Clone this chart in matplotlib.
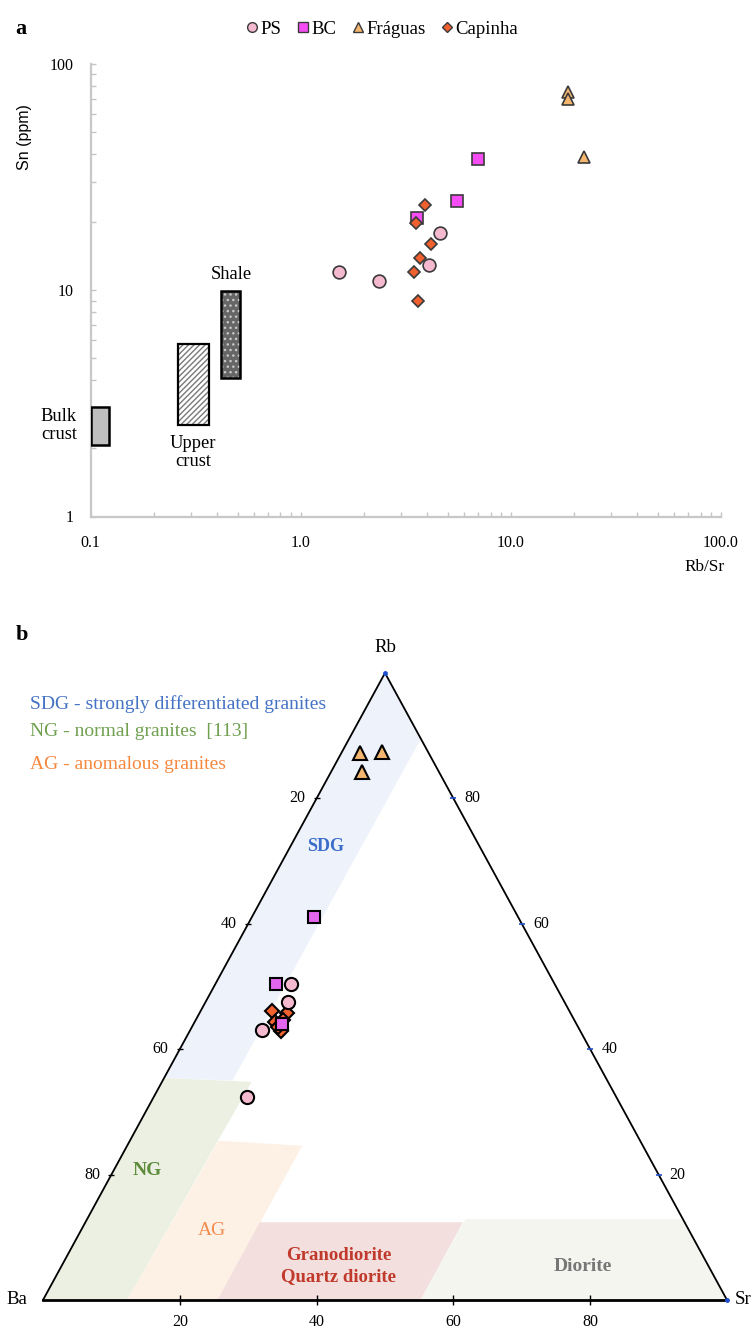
import matplotlib
matplotlib.use('Agg')
import matplotlib.pyplot as plt
from matplotlib.patches import Rectangle, Polygon
from matplotlib.lines import Line2D
from matplotlib.ticker import NullFormatter, LogLocator

SERIF = ['Liberation Serif', 'DejaVu Serif']
plt.rcParams['font.family'] = SERIF

# ---------------- data: panel a (Rb/Sr vs Sn) ----------------
ps_rbsr = [1.52, 2.35, 4.59, 4.07]
ps_sn = [12.0, 11.0, 17.9, 12.9]
bc_rbsr = [6.96, 5.53, 3.57]
bc_sn = [38.0, 24.8, 20.8]
fr_rbsr = [18.7, 18.7, 22.3]
fr_sn = [75.2, 70.0, 38.7]
cp_rbsr = [3.89, 3.53, 4.16, 3.69, 3.45, 3.61]
cp_sn = [23.8, 19.8, 16.0, 13.9, 12.0, 9.0]

ref_names = ['Bulk\ncrust', 'Upper\ncrust', 'Shale']
ref_rbsr_lo = [0.100, 0.259, 0.416]
ref_rbsr_hi = [0.122, 0.365, 0.512]
ref_sn_lo = [2.08, 2.54, 4.1]
ref_sn_hi = [3.05, 5.77, 9.9]

x_ticks = [0.1, 1, 10, 100]
x_ticklabels = ['0.1', '1.0', '10.0', '100.0']
y_ticks = [1, 10, 100]
y_ticklabels = ['1', '10', '100']

# ---------------- data: panel b (Ba-Rb-Sr ternary, %) ----------------
ps_ba = [38.5, 40.4, 46.5, 54.0]
ps_rb = [50.4, 47.6, 43.0, 32.3]
ps_sr = [11.1, 12.0, 10.5, 13.7]
bc_ba = [29.8, 40.7, 43.0]
bc_rb = [61.1, 50.4, 44.0]
bc_sr = [9.1, 8.9, 13.0]
fr_ba = [10.0, 6.8, 11.2]
fr_rb = [87.2, 87.4, 84.2]
fr_sr = [2.8, 5.8, 4.6]
cp_ba = [43.5, 41.4, 43.9, 43.8, 42.5, 43.8]
cp_rb = [46.1, 45.8, 44.3, 42.9, 44.7, 43.6]
cp_sr = [10.4, 12.8, 11.8, 13.3, 12.8, 12.6]

# field outlines as (Rb %, Sr %); Ba = 100 - Rb - Sr
sdg_rb = [100, 89.5, 35.0, 35.4]
sdg_sr = [0, 10.5, 10.2, 0]
ng_rb = [35.4, 34.8, 0, 0]
ng_sr = [0, 13.1, 12.3, 0]
ag_rb = [25.4, 24.6, 0, 0]
ag_sr = [13.0, 25.6, 25.5, 12.3]
gd_rb = [12.4, 12.4, 0, 0]
gd_sr = [25.5, 55.2, 55.2, 25.5]
di_rb = [12.9, 12.9, 0, 0]
di_sr = [55.3, 87.1, 100, 55.2]

tern_ticks = [20, 40, 60, 80]

# ---------------- styles ----------------
C_PS = '#F5B9CF'
C_BC = '#F54CF5'
C_BC2 = '#E466EE'
C_FR = '#F4B66E'
C_CP = '#F0612F'
EDGE = '#3a3a3a'

W, H = 754, 1327
fig = plt.figure(figsize=(W / 100, H / 100), dpi=100)


def fx(px):
    return px / W


def fy(py):
    return 1 - py / H


# ================= Panel a =================
x0, x1, y0, y1 = 90.7, 721, 64, 516.5
axa = fig.add_axes([fx(x0), fy(y1), (x1 - x0) / W, (y1 - y0) / H])
axa.set_xscale('log')
axa.set_yscale('log')
axa.set_xlim(0.1, 100)
axa.set_ylim(1, 100)
for s in ['top', 'right']:
    axa.spines[s].set_visible(False)
for s in ['left', 'bottom']:
    axa.spines[s].set_color('#c8c8c8')
    axa.spines[s].set_linewidth(1.6)
axa.set_xticks(x_ticks, labels=x_ticklabels)
axa.set_yticks(y_ticks, labels=y_ticklabels)
axa.xaxis.set_minor_locator(LogLocator(base=10, subs=range(2, 10)))
axa.yaxis.set_minor_locator(LogLocator(base=10, subs=range(2, 10)))
axa.xaxis.set_minor_formatter(NullFormatter())
axa.yaxis.set_minor_formatter(NullFormatter())
axa.tick_params(which='both', direction='in', color='#c4c4c4', width=1.0,
                length=3.8, labelsize=11.5)
axa.tick_params(axis='x', which='both', pad=13)
axa.tick_params(axis='y', which='both', pad=12.5)

# reference boxes
# bulk crust
axa.add_patch(Rectangle((ref_rbsr_lo[0], ref_sn_lo[0]), ref_rbsr_hi[0] - ref_rbsr_lo[0],
                        ref_sn_hi[0] - ref_sn_lo[0], facecolor='#bfbfbf',
                        edgecolor='black', lw=1.8, zorder=3))
# upper crust (hatched)
axa.add_patch(Rectangle((ref_rbsr_lo[1], ref_sn_lo[1]), ref_rbsr_hi[1] - ref_rbsr_lo[1],
                        ref_sn_hi[1] - ref_sn_lo[1], facecolor='white',
                        edgecolor='#7a7a7a', hatch='//////', lw=0, zorder=3))
axa.add_patch(Rectangle((ref_rbsr_lo[1], ref_sn_lo[1]), ref_rbsr_hi[1] - ref_rbsr_lo[1],
                        ref_sn_hi[1] - ref_sn_lo[1], facecolor='none',
                        edgecolor='black', lw=1.6, zorder=4))
# shale (dotted dark)
axa.add_patch(Rectangle((ref_rbsr_lo[2], ref_sn_lo[2]), ref_rbsr_hi[2] - ref_rbsr_lo[2],
                        ref_sn_hi[2] - ref_sn_lo[2], facecolor='#666666',
                        edgecolor='none', lw=0, zorder=3))
axa.add_patch(Rectangle((ref_rbsr_lo[2], ref_sn_lo[2]), ref_rbsr_hi[2] - ref_rbsr_lo[2],
                        ref_sn_hi[2] - ref_sn_lo[2], facecolor='none',
                        edgecolor='#c8c8c8', hatch='...', lw=0, zorder=3))
axa.add_patch(Rectangle((ref_rbsr_lo[2], ref_sn_lo[2]), ref_rbsr_hi[2] - ref_rbsr_lo[2],
                        ref_sn_hi[2] - ref_sn_lo[2], facecolor='none',
                        edgecolor='black', lw=1.8, zorder=4))

axa.text(0.0706, 2.52, ref_names[0], ha='center', va='center', fontsize=13.3,
         linespacing=1.1)
axa.text(0.307, 1.92, ref_names[1], ha='center', va='center', fontsize=13.3,
         linespacing=1.1)
axa.text(0.466, 11.7, ref_names[2], ha='center', va='center', fontsize=13.3)

mk = dict(markeredgecolor=EDGE, markeredgewidth=1.2, linestyle='none', zorder=5)
axa.plot(ps_rbsr, ps_sn, marker='o', ms=9.2, markerfacecolor=C_PS, **mk)
axa.plot(bc_rbsr, bc_sn, marker='s', ms=8.2, markerfacecolor=C_BC, **mk)
axa.plot(fr_rbsr, fr_sn, marker='^', ms=8.6, markerfacecolor=C_FR, **mk)
axa.plot(cp_rbsr, cp_sn, marker='D', ms=5.8, markerfacecolor=C_CP, **mk)

fig.text(fx(25), fy(137), 'Sn (ppm)', rotation=90, ha='center', va='center',
         fontsize=11.5, family=['Liberation Sans', 'DejaVu Sans'])
fig.text(fx(705), fy(567), 'Rb/Sr', ha='center', va='center', fontsize=12.4)
fig.text(fx(21), fy(29), 'a', ha='center', va='center', fontsize=16,
         fontweight='bold')

lmk = dict(markeredgecolor=EDGE, markeredgewidth=1.0, linestyle='none')
handles = [Line2D([], [], marker='o', ms=7, markerfacecolor=C_PS, **lmk),
           Line2D([], [], marker='s', ms=7, markerfacecolor=C_BC, **lmk),
           Line2D([], [], marker='^', ms=7, markerfacecolor=C_FR, **lmk),
           Line2D([], [], marker='D', ms=5, markerfacecolor=C_CP, **lmk)]
fig.legend(handles, ['PS', 'BC', 'Fráguas', 'Capinha'], loc='center',
           bbox_to_anchor=(fx(382), fy(29)), ncol=4, frameon=False,
           handlelength=0.6, handletextpad=0.15, columnspacing=0.85,
           fontsize=13.5, borderpad=0, borderaxespad=0)

# ================= Panel b (ternary) =================
bx0, bx1, by0, by1 = 43, 727, 1300, 673
axb = fig.add_axes([fx(bx0), fy(by0), (bx1 - bx0) / W, (by0 - by1) / H])
axb.set_xlim(0, 1)
axb.set_ylim(0, 1)
axb.axis('off')


def tern(ba, rb, sr):
    ba = list(ba) if hasattr(ba, '__len__') else [ba]
    rb = list(rb) if hasattr(rb, '__len__') else [rb]
    sr = list(sr) if hasattr(sr, '__len__') else [sr]
    xs, ys = [], []
    for a, r, s in zip(ba, rb, sr):
        t = a + r + s
        xs.append((s + r / 2) / t)
        ys.append(r / t)
    return xs, ys


def field(rb, sr, color):
    ba = [100 - r - s for r, s in zip(rb, sr)]
    xs, ys = tern(ba, rb, sr)
    axb.add_patch(Polygon(list(zip(xs, ys)), closed=True, facecolor=color,
                          edgecolor='none', zorder=1, clip_on=False))


field(sdg_rb, sdg_sr, '#EEF3FB')
field(ng_rb, ng_sr, '#EBF0E2')
field(ag_rb, ag_sr, '#FDF0E4')
field(gd_rb, gd_sr, '#F2DFDE')
field(di_rb, di_sr, '#F5F5F0')

# triangle frame
fx_, fy_ = tern([100, 0, 0, 100], [0, 100, 0, 0], [0, 0, 100, 0])
axb.plot(fx_[:3], fy_[:3], color='black', lw=1.3, zorder=3, clip_on=False,
         solid_joinstyle='miter')
axb.plot([fx_[0], fx_[2]], [fy_[0], fy_[2]], color='black', lw=2.0, zorder=3,
         clip_on=False)
# vertex markers
vx, vy = tern([0, 0], [100, 0], [0, 100])
axb.plot(vx, vy, marker='o', ms=2.5, color='#2050d0', linestyle='none',
         zorder=4, clip_on=False)

# ticks and tick labels
for v in tern_ticks:
    # left edge: Ba %
    lx, ly = tern(v, 100 - v, 0)
    axb.plot(lx, ly, marker='_', ms=4, color='black', mew=1, zorder=4,
             clip_on=False)
    axb.annotate(str(v), (lx[0], ly[0]), xytext=(-8, 0), textcoords='offset points',
                 ha='right', va='center', fontsize=11.5)
    # right edge: Rb %
    rx, ry = tern(0, v, 100 - v)
    axb.plot(rx, ry, marker='_', ms=4, color='#2050d0', mew=1.2, zorder=4,
             clip_on=False)
    axb.annotate(str(v), (rx[0], ry[0]), xytext=(8, 0), textcoords='offset points',
                 ha='left', va='center', fontsize=11.5)
    # bottom edge: Sr %
    bxx, byy = tern(100 - v, 0, v)
    axb.plot(bxx, byy, marker='|', ms=7, color='black', mew=1, zorder=4,
             clip_on=False)
    axb.annotate(str(v), (bxx[0], byy[0]), xytext=(0, -15.5),
                 textcoords='offset points', ha='center', va='center',
                 fontsize=11.5)

axb.annotate('Rb', (vx[0], vy[0]), xytext=(0, 18.7), textcoords='offset points',
             ha='center', va='center', fontsize=13.6)
axb.annotate('Sr', (vx[1], vy[1]), xytext=(11.5, 0), textcoords='offset points',
             ha='center', va='center', fontsize=13.6)
bax, bay = tern(100, 0, 0)
axb.annotate('Ba', (bax[0], bay[0]), xytext=(-19, 0), textcoords='offset points',
             ha='center', va='center', fontsize=13.6)

# data
tmk = dict(markeredgecolor='black', markeredgewidth=1.5, linestyle='none',
           zorder=6, clip_on=False)
cx, cy = tern(cp_ba, cp_rb, cp_sr)
axb.plot(cx, cy, marker='D', ms=7, markerfacecolor=C_CP, **tmk)
px, py = tern(ps_ba, ps_rb, ps_sr)
axb.plot(px, py, marker='o', ms=9.5, markerfacecolor=C_PS, **tmk)
qx, qy = tern(bc_ba, bc_rb, bc_sr)
axb.plot(qx, qy, marker='s', ms=9.3, markerfacecolor=C_BC2, **tmk)
tx, ty = tern(fr_ba, fr_rb, fr_sr)
axb.plot(tx, ty, marker='^', ms=9.8, markerfacecolor=C_FR, **tmk)

# field labels (positions in ternary-plot coordinates)
axb.text(0.4137, 0.7225, 'SDG', color='#3A6CC8', fontsize=13, fontweight='bold',
         ha='center', va='center', zorder=5)
axb.text(0.152, 0.2065, 'NG', color='#5E8C3C', fontsize=14, fontweight='bold',
         ha='center', va='center', zorder=5)
axb.text(0.2463, 0.1116, 'AG', color='#F28C50', fontsize=14,
         ha='center', va='center', zorder=5)
axb.text(0.432, 0.0545, 'Granodiorite\nQuartz diorite', color='#C0392B',
         fontsize=13.5, fontweight='bold', ha='center', va='center',
         linespacing=1.3, zorder=5)
axb.text(0.789, 0.0542, 'Diorite', color='#767676', fontsize=14,
         fontweight='bold', ha='center', va='center', zorder=5)

# panel b key
fig.text(fx(30), fy(704), 'SDG - strongly differentiated granites',
         color='#4472C4', fontsize=14, ha='left', va='center')
fig.text(fx(30), fy(732), 'NG - normal granites  [113]',
         color='#70A050', fontsize=14, ha='left', va='center')
fig.text(fx(30), fy(764), 'AG - anomalous granites',
         color='#F5883F', fontsize=14, ha='left', va='center')
fig.text(fx(21.7), fy(635), 'b', ha='center', va='center', fontsize=16,
         fontweight='bold')

fig.savefig('out.png', dpi=100)
